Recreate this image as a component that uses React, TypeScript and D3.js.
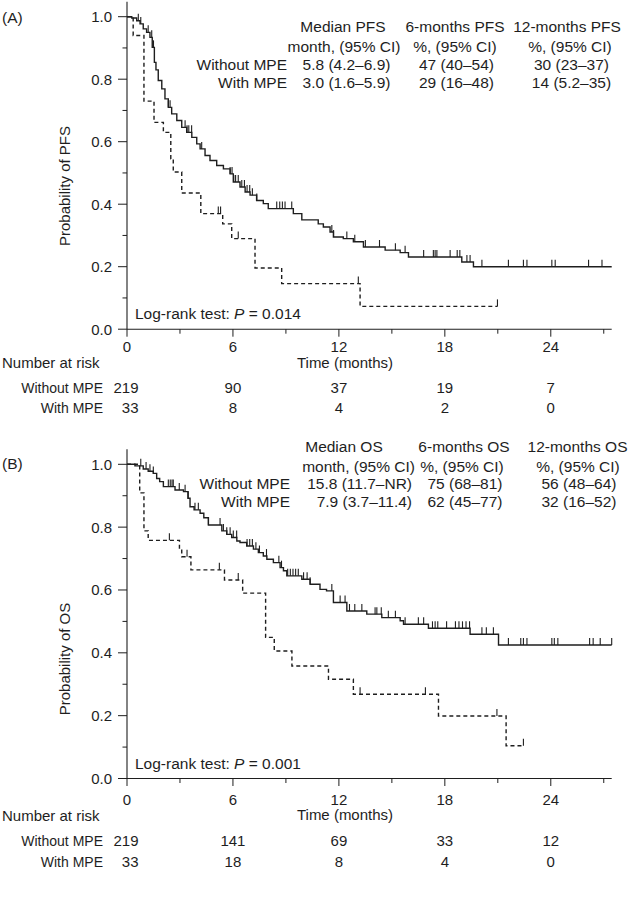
import React from "react";
import * as d3 from "d3";

// ---- data ----
const riskTimes = [0, 6, 12, 18, 24];
const xTicksMajor = [0, 6, 12, 18, 24];
const xTicksMinor = [3, 9, 15, 21, 27];
const yTicksMajor = [0, 0.2, 0.4, 0.6, 0.8, 1.0];
const yTicksMinor = [0.1, 0.3, 0.5, 0.7, 0.9];
const groups = ["Without MPE", "With MPE"];

const pfsHeader1 = ["Median PFS", "6-months PFS", "12-months PFS"];
const pfsHeader2 = ["month, (95% CI)", "%, (95% CI)", "%, (95% CI)"];
const pfsWithoutRow = ["5.8 (4.2–6.9)", "47 (40–54)", "30 (23–37)"];
const pfsWithRow = ["3.0 (1.6–5.9)", "29 (16–48)", "14 (5.2–35)"];
const pfsRiskWithout = [219, 90, 37, 19, 7];
const pfsRiskWith = [33, 8, 4, 2, 0];

const osHeader1 = ["Median OS", "6-months OS", "12-months OS"];
const osHeader2 = ["month, (95% CI)", "%, (95% CI)", "%, (95% CI)"];
const osWithoutRow = ["15.8 (11.7–NR)", "75 (68–81)", "56 (48–64)"];
const osWithRow = ["7.9 (3.7–11.4)", "62 (45–77)", "32 (16–52)"];
const osRiskWithout = [219, 141, 69, 33, 12];
const osRiskWith = [33, 18, 8, 4, 0];

// step curves: [month, survival]
const pfsWithoutSteps: [number, number][] = [
  [0, 1], [0.27, 0.996], [0.55, 0.987], [0.74, 0.977], [0.92, 0.961], [1.11, 0.95],
  [1.3, 0.934], [1.43, 0.902], [1.55, 0.854], [1.64, 0.83], [1.77, 0.796], [1.97, 0.769],
  [2.15, 0.737], [2.34, 0.71], [2.53, 0.689], [2.82, 0.668], [3.1, 0.646], [3.38, 0.63],
  [3.67, 0.614], [3.95, 0.593], [4.14, 0.577], [4.42, 0.556], [4.7, 0.54], [5.08, 0.524],
  [5.46, 0.513], [5.84, 0.497], [6.02, 0.471], [6.4, 0.455], [6.69, 0.439], [6.97, 0.429],
  [7.34, 0.412], [7.72, 0.402], [8.0, 0.386], [9.42, 0.37], [9.9, 0.35], [10.83, 0.337],
  [11.12, 0.327], [11.5, 0.311], [11.69, 0.295], [12.25, 0.29], [12.82, 0.28], [13.39, 0.263],
  [14.62, 0.253], [15.47, 0.245], [15.94, 0.231], [18.96, 0.215], [19.62, 0.2],
];
const pfsWithoutEnd = 27.45;
const pfsWithoutCensor = [
  0.64, 0.78, 1.2, 1.4, 1.5, 2.34, 2.44, 3.29, 3.4, 3.5, 3.66, 4.23, 5.84, 5.95, 6.05,
  6.15, 6.3, 6.5, 6.65, 6.8, 6.95, 7.1, 7.35, 8.48, 8.65, 8.8, 8.95, 9.33, 11.6, 11.7,
  12.45, 12.9, 13.5, 14.3, 15.2, 15.75, 16.8, 17.35, 17.45, 17.55, 18.3, 18.7, 18.85,
  19.25, 19.43, 20.1, 21.6, 22.45, 22.65, 24.06, 24.25, 26.14, 26.9,
];

const pfsWithSteps: [number, number][] = [
  [0, 1], [0.35, 0.94], [0.96, 0.73], [1.53, 0.662], [2.06, 0.63], [2.48, 0.545],
  [2.62, 0.503], [3.1, 0.436], [4.18, 0.37], [5.42, 0.337], [5.93, 0.29], [7.25, 0.196],
  [8.76, 0.146], [13.2, 0.073],
];
const pfsWithEnd = 20.98;
const pfsWithCensor = [5.17, 5.3, 6.3, 13.1, 20.98];

const osWithoutSteps: [number, number][] = [
  [0, 1], [0.45, 0.995], [0.92, 0.985], [1.2, 0.978], [1.49, 0.971], [1.68, 0.955],
  [1.85, 0.945], [2.06, 0.929], [2.72, 0.918], [3.2, 0.913], [3.45, 0.892], [3.57, 0.865],
  [3.8, 0.855], [4.14, 0.844], [4.35, 0.83], [4.61, 0.807], [5.37, 0.788], [5.65, 0.777],
  [5.93, 0.767], [6.22, 0.756], [6.4, 0.751], [6.78, 0.74], [7.16, 0.73], [7.44, 0.719],
  [7.72, 0.708], [7.92, 0.698], [8.29, 0.687], [8.67, 0.671], [8.86, 0.661], [9.05, 0.645],
  [9.9, 0.634], [10.37, 0.618], [10.93, 0.602], [11.3, 0.597], [11.69, 0.56], [12.45, 0.533],
  [13.58, 0.523], [14.43, 0.512], [15.47, 0.502], [15.66, 0.491], [17.07, 0.478],
  [19.43, 0.459], [21.04, 0.425],
];
const osWithoutEnd = 27.45;
const osWithoutCensor = [
  0.78, 1.08, 1.3, 1.49, 2.34, 2.45, 2.55, 2.62, 2.96, 3.29, 3.47, 3.85, 4.04, 4.61,
  5.27, 5.46, 5.65, 5.84, 6.02, 6.21, 6.8, 6.95, 7.1, 7.3, 7.5, 7.9, 8.6, 8.75, 9.1,
  9.25, 9.4, 9.55, 9.7, 10.0, 10.2, 10.37, 11.6, 12.07, 12.35, 12.6, 12.9, 13.3, 14.05,
  14.15, 14.4, 14.8, 15.2, 15.75, 16.5, 16.8, 17.3, 17.45, 17.6, 18.1, 18.6, 18.8, 19.0,
  19.2, 19.4, 20.1, 20.35, 20.75, 21.6, 22.3, 22.45, 22.65, 24.06, 24.2, 24.4, 26.2,
  26.4, 26.8, 27.45,
];

const osWithSteps: [number, number][] = [
  [0, 1], [0.72, 0.909], [0.96, 0.788], [1.2, 0.758], [2.97, 0.73], [3.1, 0.706],
  [3.62, 0.664], [5.52, 0.632], [6.55, 0.59], [7.85, 0.449], [8.34, 0.406], [9.34, 0.358],
  [11.41, 0.316], [12.82, 0.268], [17.64, 0.199], [21.47, 0.104],
];
const osWithEnd = 22.45;
const osWithCensor = [2.4, 3.4, 5.23, 6.3, 13.2, 16.9, 20.95, 22.45];

const FONT = "'Liberation Sans', Arial, Helvetica, sans-serif";
const INK = "#1e1e1e";

const x = d3.scaleLinear().domain([0, 27.45]).range([127, 611.7]);

function valueAt(steps: [number, number][], t: number) {
  let v = steps[0][1];
  for (const [m, s] of steps) if (m <= t) v = s;
  return v;
}

interface PanelProps {
  tag: string;
  y0: number;
  y1: number;
  yLabel: string;
  yLabelY: number;
  pValue: string;
  h1: string[];
  h2: string[];
  rowA: string[];
  rowB: string[];
  tableY: number[];
  rowLabelX: number;
  colX: number[][];
  colAnchor: string[][];
  riskA: number[];
  riskB: number[];
  riskY: number[]; // tick labels, number-at-risk, row1, row2
  curves: { steps: [number, number][]; end: number; censor: number[]; dashed: boolean }[];
  tagY: number;
}

const Panel: React.FC<PanelProps> = (p) => {
  const y = d3.scaleLinear().domain([0, 1]).range([p.y0, p.y1]);
  const line = d3
    .line<[number, number]>()
    .x((d) => x(d[0]))
    .y((d) => y(d[1]))
    .curve(d3.curveStepAfter);
  const fs = 15;
  return (
    <g fontFamily={FONT} fill={INK}>
      <text x={2} y={p.tagY} fontSize={15.5}>{p.tag}</text>

      {/* axes */}
      <line x1={x(0)} x2={x(0)} y1={p.y1 - 15} y2={p.y0} stroke={INK} strokeWidth={1.1} />
      <line x1={x(0)} x2={x.range()[1]} y1={p.y0} y2={p.y0} stroke={INK} strokeWidth={1.1} />
      {yTicksMajor.map((t) => (
        <g key={"ym" + t}>
          <line x1={x(0) - 9} x2={x(0)} y1={y(t)} y2={y(t)} stroke={INK} />
          <text x={112} y={y(t)} dy="0.36em" textAnchor="end" fontSize={fs}>
            {t.toFixed(1)}
          </text>
        </g>
      ))}
      {yTicksMinor.map((t) => (
        <line key={"yn" + t} x1={x(0) - 4.5} x2={x(0)} y1={y(t)} y2={y(t)} stroke={INK} />
      ))}
      {xTicksMajor.map((t) => (
        <g key={"xm" + t}>
          <line x1={x(t)} x2={x(t)} y1={p.y0} y2={p.y0 + 7.5} stroke={INK} />
          <text x={x(t)} y={p.riskY[0]} textAnchor="middle" fontSize={fs}>{t}</text>
        </g>
      ))}
      {xTicksMinor.map((t) => (
        <line key={"xn" + t} x1={x(t)} x2={x(t)} y1={p.y0} y2={p.y0 + 4.5} stroke={INK} />
      ))}
      <text x={345} y={p.riskY[1] - 0.5} textAnchor="middle" fontSize={fs}>Time (months)</text>
      <text
        transform={`translate(70,${p.yLabelY}) rotate(-90)`}
        textAnchor="middle"
        fontSize={fs}
      >
        {p.yLabel}
      </text>

      {/* curves */}
      {p.curves.map((c, i) => {
        const pts: [number, number][] = [...c.steps, [c.end, c.steps[c.steps.length - 1][1]]];
        return (
          <g key={"c" + i}>
            <path
              d={line(pts) || ""}
              fill="none"
              stroke={INK}
              strokeWidth={1.4}
              strokeDasharray={c.dashed ? "4,3" : undefined}
            />
            {c.censor.map((t, j) => (
              <line
                key={j}
                x1={x(t)}
                x2={x(t)}
                y1={y(valueAt(c.steps, t))}
                y2={y(valueAt(c.steps, t)) - 7}
                stroke={INK}
                strokeWidth={1.1}
              />
            ))}
          </g>
        );
      })}

      <text x={135} y={p.y0 - 10} fontSize={15.5}>
        Log-rank test: <tspan fontStyle="italic">P</tspan> = {p.pValue}
      </text>

      {/* summary table */}
      {[p.h1, p.h2, p.rowA, p.rowB].map((row, r) =>
        row.map((s, c) => (
          <text
            key={"t" + r + c}
            x={p.colX[r][c]}
            y={p.tableY[r]}
            textAnchor={p.colAnchor[r][c] as any}
            fontSize={15.5}
          >
            {s}
          </text>
        ))
      )}
      {groups.map((g, i) => (
        <text key={"g" + i} x={p.rowLabelX} y={p.tableY[2 + i]} textAnchor="end" fontSize={15.5}>
          {g}
        </text>
      ))}

      {/* number at risk */}
      <text x={2} y={p.riskY[1]} fontSize={fs}>Number at risk</text>
      {groups.map((g, i) => (
        <text key={"rg" + i} x={103} y={p.riskY[2 + i]} textAnchor="end" fontSize={14}>
          {g}
        </text>
      ))}
      {[p.riskA, p.riskB].map((row, i) =>
        row.map((n, j) => (
          <text
            key={"r" + i + j}
            x={j === 0 ? x(riskTimes[j]) + 11.5 : x(riskTimes[j])}
            y={p.riskY[2 + i]}
            textAnchor={j === 0 ? "end" : "middle"}
            fontSize={fs}
          >
            {n}
          </text>
        ))
      )}
    </g>
  );
};

export default function App() {
  return (
    <svg
      width={630}
      height={899}
      style={{ position: "absolute", left: 0, top: 0, background: "#fff" }}
    >
      <rect width={630} height={899} fill="#fff" />
      <Panel
        tag="(A)"
        tagY={23}
        y0={329.2}
        y1={16.7}
        yLabel="Probability of PFS"
        yLabelY={186}
        pValue="0.014"
        h1={pfsHeader1}
        h2={pfsHeader2}
        rowA={pfsWithoutRow}
        rowB={pfsWithRow}
        tableY={[31.5, 51.5, 69.5, 87.5]}
        rowLabelX={287}
        colX={[
          [343, 455, 567],
          [344, 455, 570],
          [346.5, 456.5, 571.5],
          [346.5, 456.5, 571.5],
        ]}
        colAnchor={[
          ["middle", "middle", "middle"],
          ["middle", "middle", "middle"],
          ["middle", "middle", "middle"],
          ["middle", "middle", "middle"],
        ]}
        riskA={pfsRiskWithout}
        riskB={pfsRiskWith}
        riskY={[352, 368, 393, 413]}
        curves={[
          { steps: pfsWithoutSteps, end: pfsWithoutEnd, censor: pfsWithoutCensor, dashed: false },
          { steps: pfsWithSteps, end: pfsWithEnd, censor: pfsWithCensor, dashed: true },
        ]}
      />
      <Panel
        tag="(B)"
        tagY={468.5}
        y0={778.5}
        y1={464.3}
        yLabel="Probability of OS"
        yLabelY={659}
        pValue="0.001"
        h1={osHeader1}
        h2={osHeader2}
        rowA={osWithoutRow}
        rowB={osWithRow}
        tableY={[451.5, 471.5, 489, 507]}
        rowLabelX={290}
        colX={[
          [344, 464, 577.5],
          [415, 462, 578],
          [412, 465, 579],
          [412, 465, 579],
        ]}
        colAnchor={[
          ["middle", "middle", "middle"],
          ["end", "middle", "middle"],
          ["end", "middle", "middle"],
          ["end", "middle", "middle"],
        ]}
        riskA={osRiskWithout}
        riskB={osRiskWith}
        riskY={[804.5, 820.5, 846, 866.5]}
        curves={[
          { steps: osWithoutSteps, end: osWithoutEnd, censor: osWithoutCensor, dashed: false },
          { steps: osWithSteps, end: osWithEnd, censor: osWithCensor, dashed: true },
        ]}
      />
    </svg>
  );
}
